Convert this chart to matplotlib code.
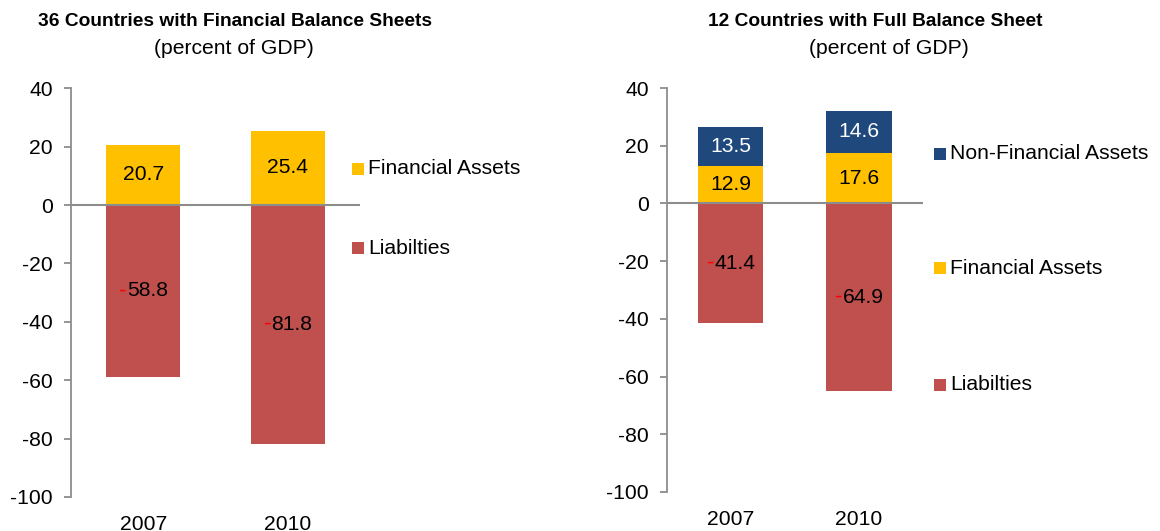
import matplotlib.pyplot as plt
from matplotlib.patches import Rectangle

plt.rcParams['font.family'] = ['Liberation Sans', 'DejaVu Sans']
plt.rcParams['axes.unicode_minus'] = False

## data
years = ['2007', '2010']
# 36 countries, financial balance sheets
fin_assets_36 = [20.7, 25.4]
liabilities_36 = [-58.8, -81.8]
# 12 countries, full balance sheet
fin_assets_12 = [12.9, 17.6]
nonfin_assets_12 = [13.5, 14.6]
liabilities_12 = [-41.4, -64.9]
yticks = [40, 20, 0, -20, -40, -60, -80, -100]

YELLOW = '#FFC000'
RED = '#C0504D'
BLUE = '#1F497D'
GRAY = '#8C8C8C'
FS = 15.2

W, H = 1160, 531
fig = plt.figure(figsize=(W / 100, H / 100), dpi=100)


def px(x, y):
    return x / W, 1 - y / H


def seg_label(ax, x, bottom, val, color='black'):
    y = bottom + val / 2
    if val < 0:
        t = ax.annotate('%.1f' % abs(val), (x, y), xytext=(3, 0), textcoords='offset points',
                        ha='center', va='center', fontsize=FS, color=color)
        ax.annotate('-', xy=(0, 0.5), xycoords=t, ha='right', va='center', color='red',
                    fontsize=FS + 1)
    else:
        ax.text(x, y, '%.1f' % val, ha='center', va='center', fontsize=FS, color=color)


def style_axes(ax):
    ax.set_xlim(-0.5, 1.5)
    ax.set_ylim(-100, 40)
    ax.set_yticks(yticks)
    ax.set_yticklabels([str(v) for v in yticks])
    ax.set_xticks(range(len(years)))
    ax.set_xticklabels(years)
    for s in ['top', 'right', 'bottom']:
        ax.spines[s].set_visible(False)
    ax.spines['left'].set_color(GRAY)
    ax.spines['left'].set_linewidth(1.3)
    ax.tick_params(axis='y', direction='out', length=5, width=1.3, color=GRAY, pad=8, labelsize=FS)
    ax.tick_params(axis='x', length=0, pad=13, labelsize=FS)
    ax.axhline(0, color=GRAY, lw=1.5, zorder=3)


def legend_item(x, y, color, label):
    fx, fy = px(x, y)
    fig.add_artist(Rectangle((fx, fy - 6 / H), 12 / W, 12 / H, transform=fig.transFigure,
                             facecolor=color, edgecolor='none'))
    fig.text(fx + 16 / W, fy, label, ha='left', va='center', fontsize=FS)


xs = range(len(years))

# left panel
ax1 = fig.add_axes([71 / W, 1 - 497 / H, (360 - 71) / W, (497 - 88.3) / H])
ax1.bar(xs, fin_assets_36, width=0.512, color=YELLOW, zorder=2)
ax1.bar(xs, liabilities_36, width=0.512, color=RED, zorder=2)
for i in xs:
    seg_label(ax1, i, 0, fin_assets_36[i])
    seg_label(ax1, i, 0, liabilities_36[i])
style_axes(ax1)

# right panel
ax2 = fig.add_axes([666.7 / W, 1 - 492 / H, (923 - 666.7) / W, (492 - 88) / H])
ax2.bar(xs, fin_assets_12, width=0.51, color=YELLOW, zorder=2)
ax2.bar(xs, nonfin_assets_12, bottom=fin_assets_12, width=0.51, color=BLUE, zorder=2)
ax2.bar(xs, liabilities_12, width=0.51, color=RED, zorder=2)
for i in xs:
    seg_label(ax2, i, 0, fin_assets_12[i])
    seg_label(ax2, i, fin_assets_12[i], nonfin_assets_12[i], color='white')
    seg_label(ax2, i, 0, liabilities_12[i])
style_axes(ax2)

# titles
fig.text(*px(235, 22), '36 Countries with Financial Balance Sheets', ha='center', va='center',
         fontsize=13.8, fontweight='bold')
fig.text(*px(234, 49), '(percent of GDP)', ha='center', va='center', fontsize=FS)
fig.text(*px(875.5, 22), '12 Countries with Full Balance Sheet', ha='center', va='center',
         fontsize=13.8, fontweight='bold')
fig.text(*px(889, 49), '(percent of GDP)', ha='center', va='center', fontsize=FS)

# legends
legend_item(352, 169, YELLOW, 'Financial Assets')
legend_item(352, 248, RED, 'Liabilties')
legend_item(934, 154, BLUE, 'Non-Financial Assets')
legend_item(934, 268, YELLOW, 'Financial Assets')
legend_item(934, 385, RED, 'Liabilties')

fig.savefig('out.png', dpi=100)
